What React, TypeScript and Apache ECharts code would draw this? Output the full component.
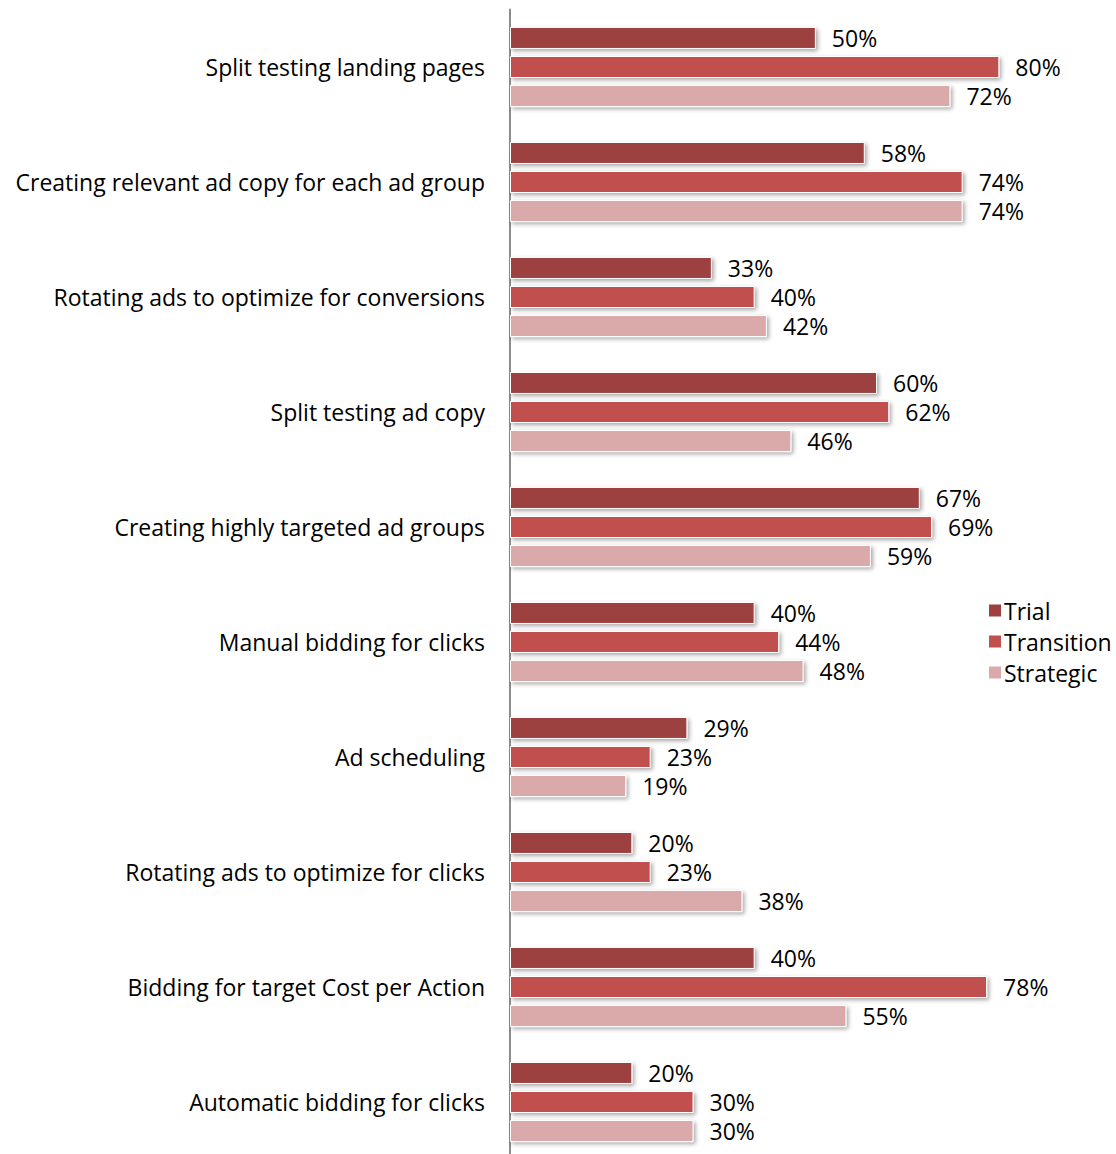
import React, { useEffect, useRef } from "react";
import * as echarts from "echarts";

const categories = [
  "Split testing landing pages",
  "Creating relevant ad copy for each ad group",
  "Rotating ads to optimize for conversions",
  "Split testing ad copy",
  "Creating highly targeted ad groups",
  "Manual bidding for clicks",
  "Ad scheduling",
  "Rotating ads to optimize for clicks",
  "Bidding for target Cost per Action",
  "Automatic bidding for clicks",
];
const trial = [50, 58, 33, 60, 67, 40, 29, 20, 40, 20];
const transition = [80, 74, 40, 62, 69, 44, 23, 23, 78, 30];
const strategic = [72, 74, 42, 46, 59, 48, 19, 38, 55, 30];
const seriesNames = ["Trial", "Transition", "Strategic"];
const colors = ["#9D403F", "#C0504D", "#DAA9A9"];

const FONT = "Open Sans";

export default function App() {
  const ref = useRef<HTMLDivElement>(null);
  useEffect(() => {
    const chart = echarts.init(ref.current!, null, { renderer: "svg" });
    const data = [trial, transition, strategic];
    chart.setOption({
      animation: false,
      textStyle: { fontFamily: FONT },
      grid: { left: 510, top: 9.5, height: 1150, width: 550.5, containLabel: false },
      legend: {
        orient: "vertical",
        left: 982,
        top: 594,
        itemWidth: 14,
        itemHeight: 14,
        itemGap: 8,
        icon: "rect",
        textStyle: { fontFamily: FONT, fontSize: 23, color: "#000", padding: [0, 0, 0, -3] },
        data: seriesNames,
      },
      xAxis: {
        type: "value",
        min: 0,
        max: 90,
        show: false,
      },
      yAxis: {
        type: "category",
        inverse: true,
        data: categories,
        axisLine: { show: true, lineStyle: { color: "#8C8C8C", width: 2 } },
        axisTick: { show: false },
        axisLabel: {
          fontFamily: FONT,
          fontSize: 23,
          color: "#000",
          margin: 25,
          padding: [0, 0, 4, 0],
        },
      },
      series: seriesNames.map((name, i) => ({
        name,
        type: "bar",
        data: data[i],
        barWidth: 22,
        barGap: "32%",
        itemStyle: {
          color: colors[i],
          borderColor: "#fff",
          borderWidth: 1,
          shadowColor: "rgba(0,0,0,0.35)",
          shadowBlur: 4,
          shadowOffsetX: 2,
          shadowOffsetY: 2,
        },
        label: {
          show: true,
          position: "right",
          distance: 16,
          formatter: "{c}%",
          fontFamily: FONT,
          fontSize: 23,
          color: "#000",
        },
      })),
    });
    return () => chart.dispose();
  }, []);
  return (
    <div
      ref={ref}
      style={{ position: "fixed", left: 0, top: 0, width: 1116, height: 1170, background: "#fff" }}
    />
  );
}
